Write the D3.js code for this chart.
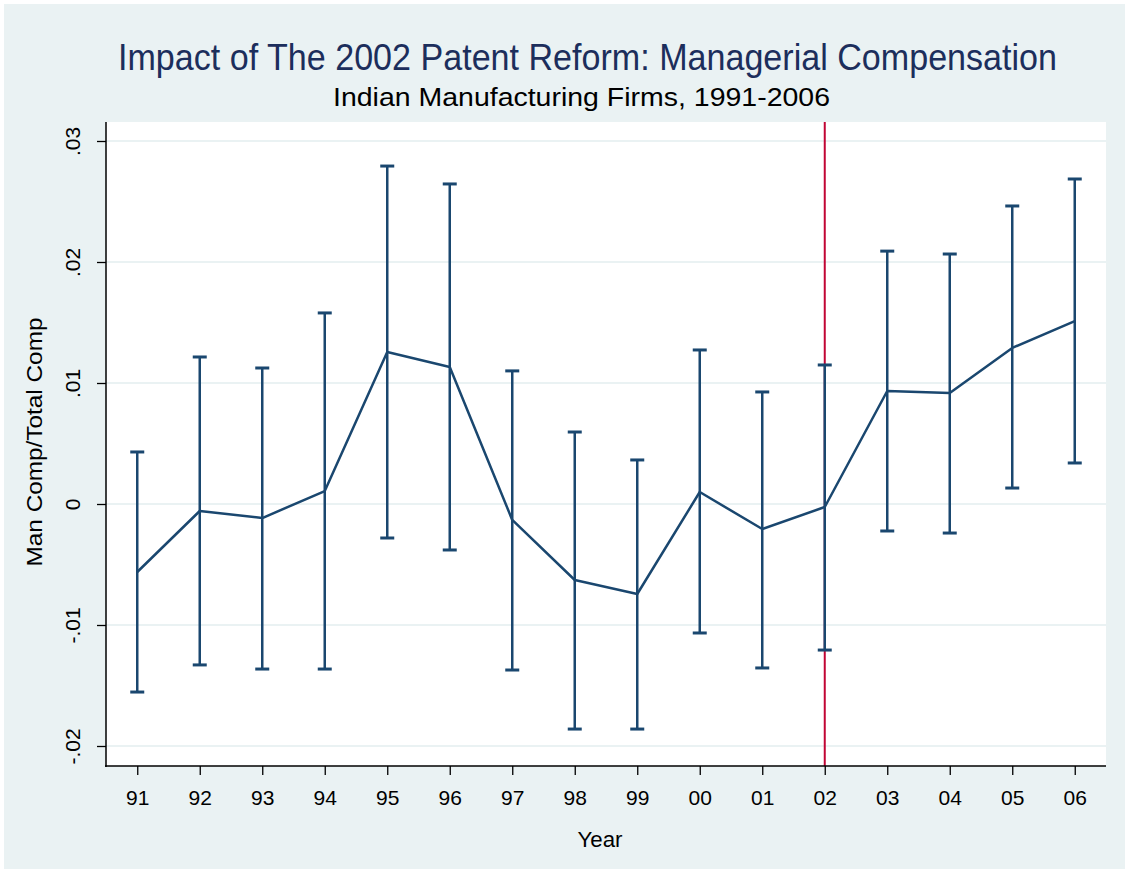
<!DOCTYPE html>
<html>
<head>
<meta charset="utf-8">
<script src="https://cdn.jsdelivr.net/npm/d3@7"></script>
<style>
  html, body { margin: 0; padding: 0; background: #ffffff; }
  svg { display: block; }
  text { font-family: "Liberation Sans", Arial, sans-serif; }
</style>
</head>
<body>
<svg id="chart" width="1128" height="871"></svg>
<script>
// ---- data ----
const years = ["91","92","93","94","95","96","97","98","99","00","01","02","03","04","05","06"];
const estimate = [-0.00562,-0.00058,-0.00116,0.00107,0.01256,0.01132,-0.00132,-0.00628,-0.00744,0.00099,-0.00207,-0.00025,0.00934,0.00917,0.0129,0.01512];
const upper = [0.0043,0.01215,0.01124,0.01579,0.02793,0.02645,0.011,0.00595,0.00364,0.01273,0.00926,0.01149,0.0209,0.02066,0.02463,0.02686];
const lower = [-0.01554,-0.0133,-0.01364,-0.01364,-0.00281,-0.0038,-0.01372,-0.0186,-0.0186,-0.01066,-0.01355,-0.01207,-0.00223,-0.0024,0.00132,0.00339];
const yTicks = [-0.02,-0.01,0,0.01,0.02,0.03];
const yTickLabels = ["-.02","-.01","0",".01",".02",".03"];
const reformYear = "02";
const titleText = "Impact of The 2002 Patent Reform: Managerial Compensation";
const subtitleText = "Indian Manufacturing Firms, 1991-2006";
const yLabel = "Man Comp/Total Comp";
const xLabel = "Year";

const data = years.map((y,i)=>({year:y, est:estimate[i], hi:upper[i], lo:lower[i]}));

// ---- layout ----
const svg = d3.select("#chart");
const W = 1128, H = 871;
const plot = {left:106, right:1106, top:122, bottom:766};
const navy = "#1a476f";
const red = "#c10534";
const bg = "#eaf2f3";

svg.append("rect").attr("x",4).attr("y",4).attr("width",W-7).attr("height",H-6).attr("fill",bg);
svg.append("rect").attr("x",plot.left).attr("y",plot.top)
  .attr("width",plot.right-plot.left).attr("height",plot.bottom-plot.top).attr("fill","#ffffff");

const x = d3.scalePoint().domain(years).range([plot.left, plot.right]).padding(0.5);
const y = d3.scaleLinear().domain([-0.02, 0.03]).range([746, 141]);

// gridlines
svg.append("g").selectAll("line").data(yTicks).join("line")
  .attr("x1",plot.left).attr("x2",plot.right)
  .attr("y1",d=>y(d)).attr("y2",d=>y(d))
  .attr("stroke",bg).attr("stroke-width",2);

// red reform line
svg.append("line")
  .attr("x1",x(reformYear)).attr("x2",x(reformYear))
  .attr("y1",plot.top).attr("y2",plot.bottom)
  .attr("stroke",red).attr("stroke-width",2);

// error bars
const eb = svg.append("g").attr("stroke",navy).attr("stroke-width",2.5).attr("fill","none");
eb.selectAll("line.v").data(data).join("line").attr("class","v")
  .attr("x1",d=>x(d.year)).attr("x2",d=>x(d.year))
  .attr("y1",d=>y(d.lo)).attr("y2",d=>y(d.hi));
eb.selectAll("line.cu").data(data).join("line").attr("class","cu")
  .attr("x1",d=>x(d.year)-7).attr("x2",d=>x(d.year)+7)
  .attr("y1",d=>y(d.hi)).attr("y2",d=>y(d.hi)).attr("stroke-width",3);
eb.selectAll("line.cl").data(data).join("line").attr("class","cl")
  .attr("x1",d=>x(d.year)-7).attr("x2",d=>x(d.year)+7)
  .attr("y1",d=>y(d.lo)).attr("y2",d=>y(d.lo)).attr("stroke-width",3);

// estimate line
svg.append("path").datum(data)
  .attr("fill","none").attr("stroke",navy).attr("stroke-width",2.5).attr("stroke-linejoin","round")
  .attr("d", d3.line().x(d=>x(d.year)).y(d=>y(d.est)));

// axes
const yAxis = d3.axisLeft(y).tickValues(yTicks).tickSize(9).tickFormat((d,i)=>yTickLabels[i]);
const gy = svg.append("g").attr("transform",`translate(${plot.left},0)`).call(yAxis);
gy.select(".domain").remove();
gy.selectAll(".tick line").attr("stroke","#000").attr("stroke-width",1.3);
gy.selectAll(".tick text").attr("font-size",21).attr("fill","#000")
  .attr("text-anchor","middle").attr("transform","rotate(-90)")
  .attr("x",0).attr("y",-26).attr("dy",0);
svg.append("line").attr("x1",plot.left).attr("x2",plot.left).attr("y1",plot.top).attr("y2",plot.bottom+1)
  .attr("stroke","#000").attr("stroke-width",1.5);

const xAxis = d3.axisBottom(x).tickSize(9);
const gx = svg.append("g").attr("transform",`translate(0,${plot.bottom})`).call(xAxis);
gx.select(".domain").remove();
gx.selectAll(".tick line").attr("stroke","#000").attr("stroke-width",1.3);
gx.selectAll(".tick text").attr("font-size",21).attr("fill","#000").attr("y",24).attr("dy","0.71em");
svg.append("line").attr("x1",plot.left-1).attr("x2",plot.right).attr("y1",plot.bottom).attr("y2",plot.bottom)
  .attr("stroke","#000").attr("stroke-width",1.5);

// axis titles
svg.append("text").attr("transform",`translate(42,442) rotate(-90)`)
  .attr("text-anchor","middle").attr("font-size",22).attr("fill","#000")
  .attr("textLength",249).attr("lengthAdjust","spacingAndGlyphs").text(yLabel);
svg.append("text").attr("x",600).attr("y",847)
  .attr("text-anchor","middle").attr("font-size",22).attr("fill","#000")
  .attr("textLength",45).attr("lengthAdjust","spacingAndGlyphs").text(xLabel);

// titles
svg.append("text").attr("x",587.5).attr("y",70).attr("font-size",36).attr("fill","#1c2e5c")
  .attr("text-anchor","middle")
  .attr("textLength",939).attr("lengthAdjust","spacingAndGlyphs").text(titleText);
svg.append("text").attr("x",581.5).attr("y",106).attr("font-size",26).attr("fill","#000")
  .attr("text-anchor","middle")
  .attr("textLength",497).attr("lengthAdjust","spacingAndGlyphs").text(subtitleText);
</script>
</body>
</html>
